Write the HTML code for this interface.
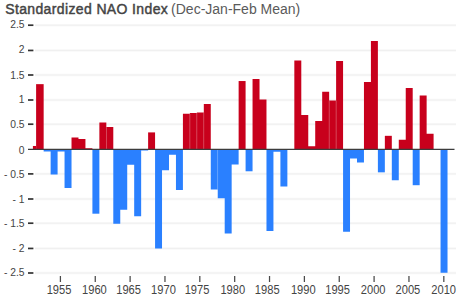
<!DOCTYPE html>
<html><head><meta charset="utf-8"><style>
html,body{margin:0;padding:0;background:#fff;width:465px;height:304px;overflow:hidden}
svg{display:block}
text{font-family:"Liberation Sans",sans-serif;fill:#444}
.yl{font-size:10.3px}
.xl{font-size:12.5px}
.t1{font-size:14px;font-weight:normal;fill:#444;stroke:#444;stroke-width:0.45px;letter-spacing:0.37px}
.t2{font-size:14px;font-weight:normal;fill:#5a5a5a;stroke:none;letter-spacing:0}
</style></head><body>
<svg width="465" height="304" viewBox="0 0 465 304">
<text x="5.2" y="13.5" class="t1">Standardized NAO Index<tspan class="t2" dx="-1"> (Dec-Jan-Feb Mean)</tspan></text>
<rect x="35" y="271.75" width="421" height="2.5" fill="#F8F8F8"/>
<rect x="35" y="272.50" width="421" height="1" fill="#F0F0F0"/>
<rect x="35" y="247.20" width="421" height="2.5" fill="#F8F8F8"/>
<rect x="35" y="247.95" width="421" height="1" fill="#F0F0F0"/>
<rect x="35" y="221.95" width="421" height="2.5" fill="#F8F8F8"/>
<rect x="35" y="222.70" width="421" height="1" fill="#F0F0F0"/>
<rect x="35" y="197.75" width="421" height="2.5" fill="#F8F8F8"/>
<rect x="35" y="198.50" width="421" height="1" fill="#F0F0F0"/>
<rect x="35" y="172.65" width="421" height="2.5" fill="#F8F8F8"/>
<rect x="35" y="173.40" width="421" height="1" fill="#F0F0F0"/>
<rect x="35" y="122.95" width="421" height="2.5" fill="#F8F8F8"/>
<rect x="35" y="123.70" width="421" height="1" fill="#F0F0F0"/>
<rect x="35" y="98.75" width="421" height="2.5" fill="#F8F8F8"/>
<rect x="35" y="99.50" width="421" height="1" fill="#F0F0F0"/>
<rect x="35" y="73.75" width="421" height="2.5" fill="#F8F8F8"/>
<rect x="35" y="74.50" width="421" height="1" fill="#F0F0F0"/>
<rect x="35" y="49.20" width="421" height="2.5" fill="#F8F8F8"/>
<rect x="35" y="49.95" width="421" height="1" fill="#F0F0F0"/>
<rect x="35" y="23.95" width="421" height="2.5" fill="#F8F8F8"/>
<rect x="35" y="24.70" width="421" height="1" fill="#F0F0F0"/>
<rect x="32.9" y="145.98" width="3.20" height="3.07" fill="#C8001C"/>
<path d="M36.10,149.05 L36.10,84.15 L43.66,84.15 L43.66,149.05 Z" fill="#C8001C"/>
<path d="M43.66,149.05 L43.66,151.53 L50.63,151.53 L50.63,174.51 L57.59,174.51 L57.59,151.53 L64.55,151.53 L64.55,187.99 L71.52,187.99 L71.52,149.05 Z" fill="#2A80FF"/>
<path d="M71.52,149.05 L71.52,137.61 L78.48,137.61 L78.48,138.99 L85.44,138.99 L85.44,148.21 L92.40,148.21 L92.40,149.05 Z" fill="#C8001C"/>
<path d="M92.40,149.05 L92.40,213.70 L99.37,213.70 L99.37,149.05 Z" fill="#2A80FF"/>
<path d="M99.37,149.05 L99.37,122.60 L106.33,122.60 L106.33,127.10 L113.29,127.10 L113.29,149.05 Z" fill="#C8001C"/>
<path d="M113.29,149.05 L113.29,223.71 L120.26,223.71 L120.26,209.74 L127.22,209.74 L127.22,164.70 L134.18,164.70 L134.18,216.28 L141.15,216.28 L141.15,150.54 L148.11,150.54 L148.11,149.05 Z" fill="#2A80FF"/>
<path d="M148.11,149.05 L148.11,132.40 L155.07,132.40 L155.07,149.05 Z" fill="#C8001C"/>
<path d="M155.07,149.05 L155.07,248.38 L162.03,248.38 L162.03,170.35 L169.00,170.35 L169.00,154.70 L175.96,154.70 L175.96,190.02 L182.92,190.02 L182.92,149.05 Z" fill="#2A80FF"/>
<path d="M182.92,149.05 L182.92,113.73 L189.89,113.73 L189.89,112.89 L196.85,112.89 L196.85,112.39 L203.81,112.39 L203.81,103.97 L210.77,103.97 L210.77,149.05 Z" fill="#C8001C"/>
<path d="M210.77,149.05 L210.77,189.52 L217.74,189.52 L217.74,198.19 L224.70,198.19 L224.70,233.42 L231.66,233.42 L231.66,164.51 L238.63,164.51 L238.63,149.05 Z" fill="#2A80FF"/>
<path d="M238.63,149.05 L238.63,81.03 L245.59,81.03 L245.59,149.05 Z" fill="#C8001C"/>
<path d="M245.59,149.05 L245.59,171.29 L252.55,171.29 L252.55,149.05 Z" fill="#2A80FF"/>
<path d="M252.55,149.05 L252.55,78.90 L259.52,78.90 L259.52,99.51 L266.48,99.51 L266.48,149.05 Z" fill="#C8001C"/>
<path d="M266.48,149.05 L266.48,231.04 L273.44,231.04 L273.44,151.77 L280.41,151.77 L280.41,186.60 L287.37,186.60 L287.37,149.05 Z" fill="#2A80FF"/>
<path d="M294.33,149.05 L294.33,60.52 L301.29,60.52 L301.29,115.02 L308.26,115.02 L308.26,146.28 L315.22,146.28 L315.22,121.06 L322.18,121.06 L322.18,91.78 L329.15,91.78 L329.15,100.50 L336.11,100.50 L336.11,61.07 L343.07,61.07 L343.07,149.05 Z" fill="#C8001C"/>
<path d="M343.07,149.05 L343.07,231.63 L350.03,231.63 L350.03,158.46 L357.00,158.46 L357.00,162.57 L363.96,162.57 L363.96,149.05 Z" fill="#2A80FF"/>
<path d="M363.96,149.05 L363.96,82.12 L370.92,82.12 L370.92,41.05 L377.89,41.05 L377.89,149.05 Z" fill="#C8001C"/>
<path d="M377.89,149.05 L377.89,172.33 L384.85,172.33 L384.85,149.05 Z" fill="#2A80FF"/>
<path d="M384.85,149.05 L384.85,135.82 L391.81,135.82 L391.81,149.05 Z" fill="#C8001C"/>
<path d="M391.81,149.05 L391.81,180.26 L398.78,180.26 L398.78,149.05 Z" fill="#2A80FF"/>
<path d="M398.78,149.05 L398.78,139.69 L405.74,139.69 L405.74,87.92 L412.70,87.92 L412.70,149.05 Z" fill="#C8001C"/>
<path d="M412.70,149.05 L412.70,185.21 L419.67,185.21 L419.67,149.05 Z" fill="#2A80FF"/>
<path d="M419.67,149.05 L419.67,95.50 L426.63,95.50 L426.63,133.69 L433.59,133.69 L433.59,149.05 Z" fill="#C8001C"/>
<path d="M433.59,149.05 L433.59,149.64 L440.55,149.64 L440.55,272.70 L447.52,272.70 L447.52,149.05 Z" fill="#2A80FF"/>
<rect x="217.44" y="149.05" width="0.6" height="40.47" fill="#fff" fill-opacity="0.45"/>
<rect x="328.85" y="100.50" width="0.6" height="48.55" fill="#fff" fill-opacity="0.45"/>
<rect x="189.59" y="113.73" width="0.6" height="35.32" fill="#fff" fill-opacity="0.45"/>
<rect x="196.55" y="112.89" width="0.6" height="36.16" fill="#fff" fill-opacity="0.45"/>
<rect x="203.51" y="112.39" width="0.6" height="36.66" fill="#fff" fill-opacity="0.45"/>
<rect x="106.03" y="127.10" width="0.6" height="21.95" fill="#fff" fill-opacity="0.45"/>
<rect x="335.81" y="100.50" width="0.6" height="48.55" fill="#fff" fill-opacity="0.45"/>
<rect x="28" y="148.75" width="426.5" height="1.25" fill="#3c3c3c"/>
<rect x="28" y="24.35" width="5.4" height="1.7" fill="#333"/>
<text x="24.5" y="28.05" text-anchor="end" class="yl">2.5</text>
<rect x="28" y="49.60" width="5.4" height="1.7" fill="#333"/>
<text x="24.5" y="53.15" text-anchor="end" class="yl">2</text>
<rect x="28" y="74.15" width="5.4" height="1.7" fill="#333"/>
<text x="24.5" y="79.00" text-anchor="end" class="yl">1.5</text>
<rect x="28" y="99.15" width="5.4" height="1.7" fill="#333"/>
<text x="24.5" y="102.85" text-anchor="end" class="yl">1</text>
<rect x="28" y="123.35" width="5.4" height="1.7" fill="#333"/>
<text x="24.5" y="128.10" text-anchor="end" class="yl">0.5</text>
<text x="24.5" y="154.00" text-anchor="end" class="yl">0</text>
<rect x="28" y="173.05" width="5.4" height="1.7" fill="#333"/>
<text x="24.5" y="177.80" text-anchor="end" class="yl">- 0.5</text>
<rect x="28" y="198.15" width="5.4" height="1.7" fill="#333"/>
<text x="24.5" y="203.40" text-anchor="end" class="yl">- 1</text>
<rect x="28" y="222.35" width="5.4" height="1.7" fill="#333"/>
<text x="24.5" y="226.95" text-anchor="end" class="yl">- 1.5</text>
<rect x="28" y="247.60" width="5.4" height="1.7" fill="#333"/>
<text x="24.5" y="252.45" text-anchor="end" class="yl">- 2</text>
<rect x="28" y="272.15" width="5.4" height="1.7" fill="#333"/>
<text x="24.5" y="275.80" text-anchor="end" class="yl">- 2.5</text>
<rect x="59.78" y="276" width="1.25" height="6" fill="#4a4a4a"/>
<text transform="translate(59.00,293.6) scale(0.89,1)" text-anchor="middle" class="xl">1955</text>
<rect x="94.63" y="276" width="1.25" height="6" fill="#4a4a4a"/>
<text transform="translate(94.40,293.6) scale(0.89,1)" text-anchor="middle" class="xl">1960</text>
<rect x="129.49" y="276" width="1.25" height="6" fill="#4a4a4a"/>
<text transform="translate(128.60,293.6) scale(0.89,1)" text-anchor="middle" class="xl">1965</text>
<rect x="164.34" y="276" width="1.25" height="6" fill="#4a4a4a"/>
<text transform="translate(163.45,293.6) scale(0.89,1)" text-anchor="middle" class="xl">1970</text>
<rect x="199.20" y="276" width="1.25" height="6" fill="#4a4a4a"/>
<text transform="translate(197.00,293.6) scale(0.89,1)" text-anchor="middle" class="xl">1975</text>
<rect x="234.06" y="276" width="1.25" height="6" fill="#4a4a4a"/>
<text transform="translate(232.80,293.6) scale(0.89,1)" text-anchor="middle" class="xl">1980</text>
<rect x="268.91" y="276" width="1.25" height="6" fill="#4a4a4a"/>
<text transform="translate(267.20,293.6) scale(0.89,1)" text-anchor="middle" class="xl">1985</text>
<rect x="303.76" y="276" width="1.25" height="6" fill="#4a4a4a"/>
<text transform="translate(303.30,293.6) scale(0.89,1)" text-anchor="middle" class="xl">1990</text>
<rect x="338.62" y="276" width="1.25" height="6" fill="#4a4a4a"/>
<text transform="translate(337.60,293.6) scale(0.89,1)" text-anchor="middle" class="xl">1995</text>
<rect x="373.47" y="276" width="1.25" height="6" fill="#4a4a4a"/>
<text transform="translate(373.15,293.6) scale(0.89,1)" text-anchor="middle" class="xl">2000</text>
<rect x="408.33" y="276" width="1.25" height="6" fill="#4a4a4a"/>
<text transform="translate(407.90,293.6) scale(0.89,1)" text-anchor="middle" class="xl">2005</text>
<rect x="443.19" y="276" width="1.25" height="6" fill="#4a4a4a"/>
<text transform="translate(443.65,293.6) scale(0.89,1)" text-anchor="middle" class="xl">2010</text>
</svg>
</body></html>
